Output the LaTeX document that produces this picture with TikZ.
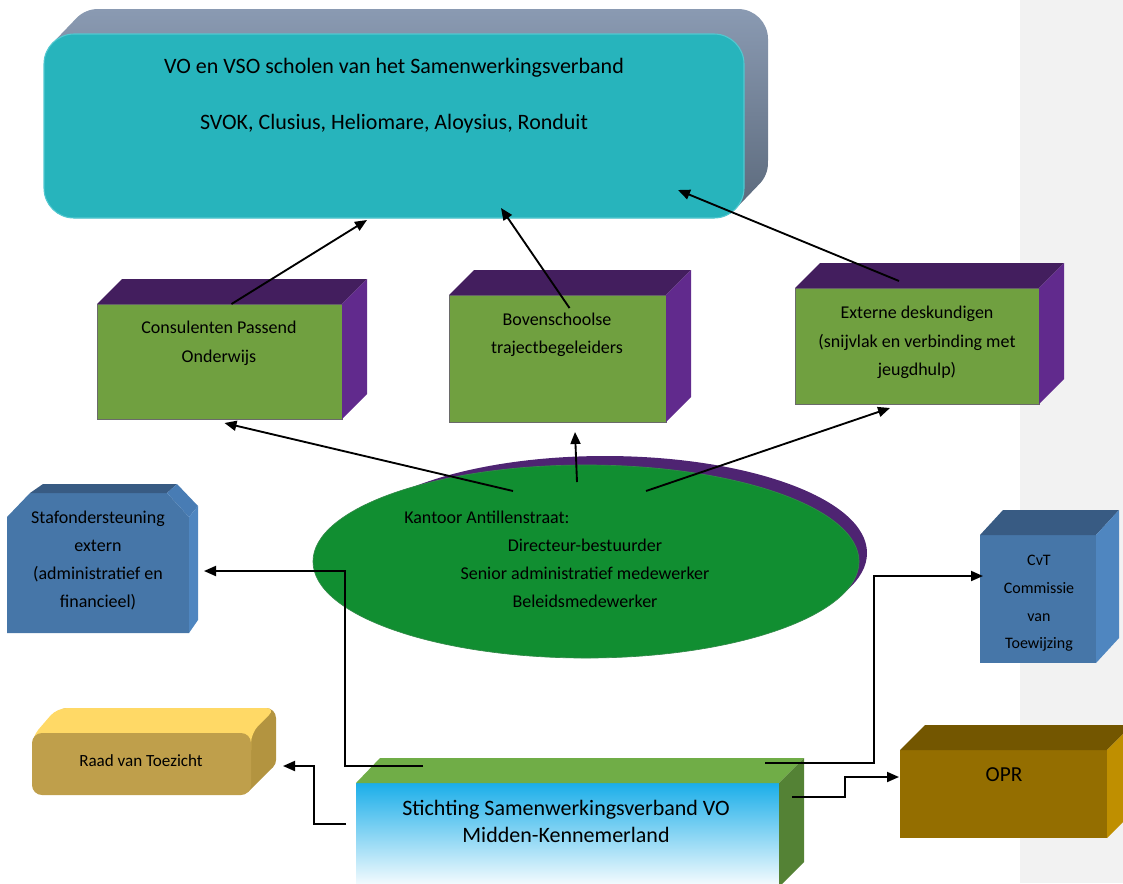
\documentclass[tikz,border=0pt]{standalone}
\usepackage{fontspec}
\setmainfont{Carlito}
\usetikzlibrary{arrows.meta,fit,calc,shapes.geometric}
\definecolor{strip}{HTML}{F2F2F2}
\definecolor{tealf}{HTML}{27B4BC}
\definecolor{tealedge}{HTML}{52C8D0}
\definecolor{slatetop}{HTML}{8A9AB2}
\definecolor{slatebot}{HTML}{5A687A}
\definecolor{boxgreen}{HTML}{70A040}
\definecolor{edgegray}{HTML}{6A6A6A}
\definecolor{ptop}{HTML}{431E5E}
\definecolor{pside}{HTML}{612A8D}
\definecolor{ellgreen}{HTML}{118E31}
\definecolor{ellpurple}{HTML}{4E2472}
\definecolor{bfront}{HTML}{4676A8}
\definecolor{btop}{HTML}{385B83}
\definecolor{bside}{HTML}{4F86C0}
\definecolor{bbevel}{HTML}{487CB4}
\definecolor{yfront}{HTML}{BF9F4B}
\definecolor{ytop}{HTML}{FFD966}
\definecolor{yside}{HTML}{B39440}
\definecolor{sgtop}{HTML}{70AD47}
\definecolor{sgside}{HTML}{548235}
\definecolor{sblue}{HTML}{1BAEE9}
\definecolor{ofront}{HTML}{946E00}
\definecolor{otop}{HTML}{735600}
\definecolor{oside}{HTML}{BF8F00}
\newcommand\mycuboid[5]{%
  \fill[#4] (#1.north west) -- ++(#2,-#3) -- ($(#1.north east)+(#2,-#3)$) -- (#1.north east) -- cycle;
  \fill[#5] (#1.north east) -- ++(#2,-#3) -- ($(#1.south east)+(#2,-#3)$) -- (#1.south east) -- cycle;}
\begin{document}
\begin{tikzpicture}[x=0.75pt,y=-0.75pt,
  conn/.style={line width=1.4pt, -{Triangle[length=9pt,width=7.5pt]}},
  cubefront/.style={inner sep=0pt, outer sep=0pt, fill=boxgreen, draw=edgegray, line width=0.7pt},
  plain/.style={inner sep=0pt, outer sep=0pt},
  lbl/.style={align=center, text=black, inner sep=0pt},
  big/.style={font=\fontsize{16.5}{20.25}\selectfont},
  mid/.style={font=\fontsize{13.5}{21.2}\selectfont}]
\useasboundingbox (0,0) rectangle (1123,883);
\clip (0,0) rectangle (1123,883);
\fill[strip] (1020,0) rectangle (1123,883);

% top box
\shade[top color=slatetop, bottom color=slatebot]
  (44,188) arc[start angle=180,end angle=270,radius=22.5pt] -- (714,218)
  arc[start angle=270,end angle=315,radius=22.5pt] -- (759.2,184.2)
  arc[start angle=315,end angle=360,radius=22.5pt] -- (768,39)
  arc[start angle=0,end angle=90,radius=22.5pt] -- (98,9)
  arc[start angle=90,end angle=135,radius=22.5pt] -- (52.8,42.8)
  arc[start angle=135,end angle=180,radius=22.5pt] -- cycle;
\node[plain, fit={(44,34) (744,218)}, rounded corners=22.5pt, fill=tealf, draw=tealedge, line width=0.8pt] (vo) {};
\node[lbl, big] (vo1) at (394,68) {VO en VSO scholen van het Samenwerkingsverband};
\node[lbl, big] (vo2) at (394,124) {SVOK, Clusius, Heliomare, Aloysius, Ronduit};

% three purple cuboids
\node[cubefront, fit={(97,304) (342,419)}] (b1) {};
\mycuboid{b1}{25}{25}{ptop}{pside}
\node[lbl, font=\fontsize{13.5}{21.7}\selectfont] (t1) at (219,343.5) {Consulenten Passend\\Onderwijs};
\node[cubefront, fit={(449,295) (666,422)}] (b2) {};
\mycuboid{b2}{25}{25}{ptop}{pside}
\node[lbl, font=\fontsize{13.5}{21}\selectfont] (t2) at (557,335) {Bovenschoolse\\trajectbegeleiders};
\node[cubefront, fit={(795,288) (1039,404)}] (b3) {};
\mycuboid{b3}{25}{25}{ptop}{pside}
\node[lbl, font=\fontsize{13.5}{21.4}\selectfont] (t3) at (917,342.5) {Externe deskundigen\\(snijvlak en verbinding met\\jeugdhulp)};

% ellipse
\fill[ellpurple] (605,553) ellipse [x radius=196.5pt, y radius=72.75pt];
\node[ellipse, plain, fill=ellgreen, draw=ellgreen!70!gray, line width=0.5pt, minimum width=409.5pt, minimum height=144.75pt] (kantoor) at (586,561.5) {};
\node[lbl, anchor=west, mid] (k0) at (404,517) {Kantoor Antillenstraat:};
\node[lbl, font=\fontsize{13.5}{21}\selectfont] (k1) at (585,573) {Directeur-bestuurder\\Senior administratief medewerker\\Beleidsmedewerker};

% Stafondersteuning
\fill[bfront] (7,517) -- (30,493) -- (167,493) -- (189,517) -- (189,633) -- (7,633) -- cycle;
\fill[btop] (30,493) -- (43,484) -- (177,484) -- (167,493) -- cycle;
\fill[bbevel] (167,493) -- (177,484) -- (198,506) -- (189,517) -- cycle;
\fill[bside] (189,517) -- (198,506) -- (198,620) -- (189,633) -- cycle;
\node[plain, fit={(7,484) (198,633)}] (stafbox) {};
\node[lbl, mid] (staf) at (98,560.5) {Stafondersteuning\\extern\\(administratief en\\financieel)};

% CvT
\node[plain, fit={(980,535) (1096,663)}, fill=bfront] (cvtbox) {};
\mycuboid{cvtbox}{23}{25}{btop}{bside}
\node[lbl, font=\fontsize{12}{20.8}\selectfont] (cvt) at (1039,603.5) {CvT\\Commissie\\van\\Toewijzing};

% Raad van Toezicht
\fill[yside, rounded corners=7.5pt] (57,708) rectangle (276,770);
\fill[yside] (34.9,735.9) -- (59.9,710.9) -- (273.1,767.1) -- (248.1,792.1) -- cycle;
\fill[ytop, rounded corners=7.5pt] (32,760) -- (32,737) -- (57,708) -- (276,708) -- (251,733) -- (251,760) -- cycle;
\node[plain, fit={(32,733) (251,795)}, rounded corners=7.5pt, fill=yfront] (raad) {};
\node[lbl, font=\fontsize{12.8}{16}\selectfont] (raadt) at (141,761) {Raad van Toezicht};

% Stichting
\node[plain, fit={(356,783) (779,890)}, top color=sblue, bottom color=white] (stich) {};
\fill[sgtop] (356,783) -- (380,758) -- (804,758) -- (779,783) -- cycle;
\fill[sgside] (779,783) -- (804,758) -- (804,862) -- (779,887) -- cycle;
\node[lbl, big] (sticht) at (566,821.5) {Stichting Samenwerkingsverband VO\\Midden-Kennemerland};

% OPR
\node[plain, fit={(900,750) (1107,838)}, fill=ofront] (opr) {};
\mycuboid{opr}{25}{25}{otop}{oside}
\node[lbl, font=\fontsize{16}{19}\selectfont] (oprt) at (1004,775) {OPR};

% connector end points
\coordinate (a1s) at ($(b1.north)+(12,0)$);
\coordinate (a1e) at ($(vo.south)+(-27,2)$);
\coordinate (a2s) at ($(b2.north)+(12,13)$);
\coordinate (a2e) at ($(vo.south)+(107,-10)$);
\coordinate (a3s) at ($(b3.north)+(-18,-7)$);
\coordinate (a3e) at ($(vo.south)+(284,-28)$);
\coordinate (e1s) at ($(kantoor.north)+(-73,26)$);
\coordinate (e1e) at ($(b1.south)+(5,4)$);
\coordinate (e2s) at ($(kantoor.north)+(-9,17)$);
\coordinate (e2e) at ($(b2.south)+(17.5,10)$);
\coordinate (e3s) at ($(kantoor.north)+(60,26)$);
\coordinate (e3e) at ($(b3.south)+(-27,4)$);
\coordinate (sA) at ($(stich.north west)+(67,-17)$);
\coordinate (tA) at ($(stafbox.east)+(6,12.5)$);
\coordinate (sB) at ($(stich.north east)+(-14,-20)$);
\coordinate (tB) at ($(cvtbox.west)+(3,-23)$);
\coordinate (sC) at ($(stich.north west)+(-10,41)$);
\coordinate (tC) at ($(raad.east)+(32,2)$);
\coordinate (sD) at ($(stich.north east)+(13,14)$);
\coordinate (tD) at ($(opr.west)+(-1,-17)$);

% connectors
\draw[conn] (a1s) -- (a1e);
\draw[conn] (a2s) -- (a2e);
\draw[conn] (a3s) -- (a3e);
\draw[conn] (e1s) -- (e1e);
\draw[conn] (e2s) -- (e2e);
\draw[conn] (e3s) -- (e3e);
\draw[conn] (sA) -- ++(-78,0) |- (tA);
\draw[conn] (sB) -- ++(109,0) |- (tB);
\draw[conn] (sC) -- ++(-32,0) |- (tC);
\draw[conn] (sD) -- ++(53,0) |- (tD);
\end{tikzpicture}
\end{document}
